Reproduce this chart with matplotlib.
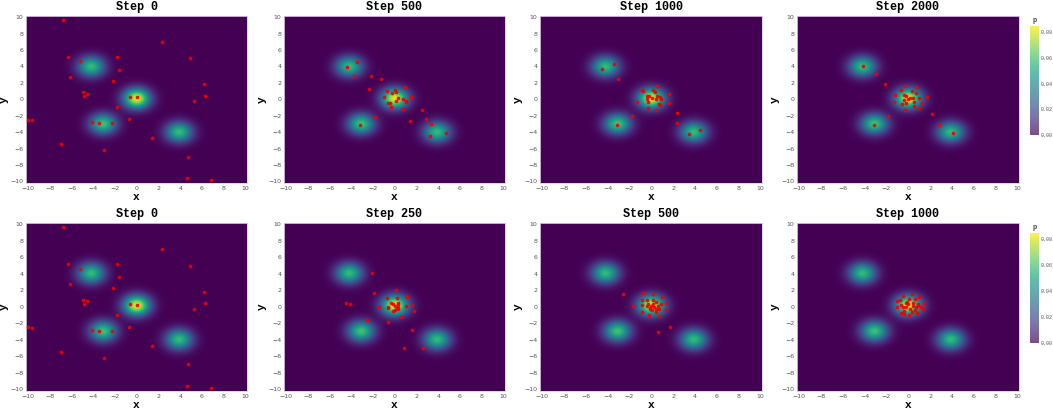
import numpy as np
import matplotlib
matplotlib.use("Agg")
import matplotlib.pyplot as plt
from matplotlib import cm
from matplotlib.colors import Normalize

# ---- mixture density parameters ----
means = [(-4.2, 4.0), (0.0, 0.1), (-3.1, -3.0), (3.9, -4.0)]
weights = [0.26, 0.37, 0.27, 0.26]
sigma = 0.85

# ---- particle positions per step ----
step0_x = [-6.82, 2.32, -6.3, -1.8, 4.86, -5.2, -1.62, -6.15, -2.23, 6.18, -4.98, -4.62, -4.89, 6.27, -0.64,
           0.0, 5.29, -1.8, -0.76, -10.03, -9.66, -4.13, -3.46, -2.29, 1.44, -6.94, -3.0, 4.68, 4.62, 6.82]
step0_y = [9.64, 6.99, 5.18, 5.18, 4.98, 4.62, 3.61, 2.77, 2.29, 1.81, 0.84, 0.68, 0.36, 0.44, 0.32,
           0.24, -0.24, -0.96, -2.41, -2.49, -2.53, -2.77, -2.93, -2.89, -4.70, -5.46, -6.22, -6.99, -9.64, -9.88]

r1_500_x = [-3.45, -4.42, -3.79, -2.21, -1.27, -2.36, 0.94, -0.67, 0.03, 0.15, -0.27, -0.97, 1.52, 0.33, 0.76,
            1.0, 0.12, 1.03, -0.61, -0.45, -0.33, 0.73, 2.48, -1.79, 1.39, 2.85, 3.33, -3.21, 4.7, 3.27]
r1_500_y = [4.6, 3.92, 2.79, 2.83, 2.46, 1.25, 1.45, 1.05, 1.09, 0.89, 0.77, 0.28, 0.28, 0.12, 0.08,
            -0.2, -0.24, -0.32, -0.4, -0.48, -0.93, -1.21, -1.33, -2.1, -2.59, -2.46, -2.99, -3.15, -4.16, -4.48]

r1_1000_x = [-3.39, -4.52, -3.05, 0.49, -0.85, -0.73, 0.18, 0.34, 1.65, -0.4, -0.18, 0.55, 0.82, 0.4, 0.85,
             -0.37, -0.31, -1.31, 1.62, 0.7, 0.82, -0.31, 0.4, 2.38, -1.74, 2.32, -3.15, 4.49, 3.42, 0.1]
r1_1000_y = [4.31, 3.74, 2.48, 1.67, 1.1, 0.98, 1.1, 0.85, 0.65, 0.37, 0.41, 0.37, 0.28, 0.08, 0.0,
             0.0, -0.28, -0.37, -0.49, -0.61, -0.65, -1.02, -1.26, -1.67, -2.07, -2.85, -3.13, -3.78, -4.19, 0.2]

r1_2000_x = [-4.19, -2.98, -2.1, -0.3, 0.7, -0.64, 0.33, 0.67, -1.22, -0.4, -0.18, 1.7, 0.94, 0.4, -0.36,
             -1.28, -0.18, -0.55, 0.49, 1.25, 0.49, 1.0, -0.27, 2.13, -1.85, 2.86, -3.16, 4.07, 0.2, 0.0]
r1_2000_y = [4.07, 3.13, 1.91, 1.59, 1.5, 1.18, 1.02, 0.73, 0.57, 0.53, 0.37, 0.33, 0.2, 0.12, -0.08,
             -0.37, -0.45, -0.53, -0.37, -0.41, -0.85, -1.06, -1.3, -1.83, -1.99, -3.13, -3.13, -4.15, 0.1, 0.05]

r2_250_x = [-2.08, -1.93, 0.15, -4.49, -4.13, -0.69, 0.18, 1.14, -0.36, 0.3, 0.33, 1.63, 1.02, -1.45, -0.6,
            -0.6, 0.33, 0.33, -0.18, 0.06, 1.81, 0.54, -2.53, -0.6, 1.6, 2.62, 0.81, 0.0, -0.2, 0.2]
r2_250_y = [4.08, 1.7, 2.02, 0.44, 0.28, 1.05, 1.05, 1.17, 0.48, 0.48, 0.28, 0.24, 0.12, -0.04, 0.0,
            -0.16, -0.08, -0.32, -0.48, -0.44, -0.53, -1.29, -1.66, -1.86, -2.87, -4.97, -5.05, 0.1, 0.3, -0.1]

r2_500_x = [-0.76, 0.18, -2.57, 1.0, -0.36, -0.82, 0.42, 0.18, 1.36, -0.3, 0.91, -1.66, -0.82, -0.36, 0.66,
            0.27, -0.09, 0.03, 0.69, 0.42, 1.39, -0.85, 0.42, -0.21, 0.69, 1.75, 0.6, 0.0, 0.2, -0.1]
r2_500_y = [1.7, 1.49, 1.54, 1.17, 0.81, 0.77, 0.61, 0.81, 0.48, 0.32, 0.32, 0.08, 0.16, 0.08, 0.08,
            0.0, -0.24, -0.36, -0.28, -0.32, -0.36, -0.65, -0.69, -1.01, -1.13, -2.46, -3.03, 0.1, 0.3, -0.1]

r2_1000_x = [0.3, -0.46, 1.0, -1.0, 0.61, 0.06, 1.4, -0.24, -0.67, 0.88, 0.4, -1.0, 0.0, 0.67, 1.37,
             0.15, -0.36, 0.61, -0.67, 0.79, 0.09, -0.18, 0.46, -0.49, 0.3, 0.91, -0.79, -0.09, -0.43, 1.16]
r2_1000_y = [1.5, 1.35, 1.17, 0.65, 0.89, 0.93, 0.48, 0.48, 0.24, 0.32, 0.12, -0.08, 0.28, -0.08, -0.28,
             -0.32, -0.48, -0.4, -0.73, -0.81, -1.05, 0.0, 0.4, -0.08, -0.65, 0.2, 0.81, 0.61, -0.85, 0.0]

row1_titles = ["Step 0", "Step 500", "Step 1000", "Step 2000"]
row2_titles = ["Step 0", "Step 250", "Step 500", "Step 1000"]
row1_pts = [(step0_x, step0_y), (r1_500_x, r1_500_y), (r1_1000_x, r1_1000_y), (r1_2000_x, r1_2000_y)]
row2_pts = [(step0_x, step0_y), (r2_250_x, r2_250_y), (r2_500_x, r2_500_y), (r2_1000_x, r2_1000_y)]

tick_vals = [-10, -8, -6, -4, -2, 0, 2, 4, 6, 8, 10]
cbar_ticks = [0.00, 0.02, 0.04, 0.06, 0.08]
vmin, vmax = 0.0, 0.085

XLIM = (-10.2, 10.15)
YLIM = (-10.2, 10.15)

# density grid
gx = np.linspace(XLIM[0], XLIM[1], 500)
gy = np.linspace(YLIM[0], YLIM[1], 500)
GX, GY = np.meshgrid(gx, gy)
dens = np.zeros_like(GX)
for (mx, my), w in zip(means, weights):
    dens += w / (2 * np.pi * sigma**2) * np.exp(-((GX - mx)**2 + (GY - my)**2) / (2 * sigma**2))

W, H = 1053, 411
fig = plt.figure(figsize=(W / 100, H / 100), dpi=100)

col_x = [(26, 247), (284, 505), (540, 762), (797, 1019)]
row_y = [(16, 183), (223, 391)]
cbar_rows = [(26, 135), (233, 343)]

mono = ["Liberation Mono", "DejaVu Sans Mono"]
norm = Normalize(vmin=vmin, vmax=vmax)

for r, (titles, pts) in enumerate([(row1_titles, row1_pts), (row2_titles, row2_pts)]):
    top, bot = row_y[r]
    for c in range(4):
        left, right = col_x[c]
        ax = fig.add_axes([left / W, 1 - bot / H, (right - left) / W, (bot - top) / H])
        ax.imshow(dens, extent=[XLIM[0], XLIM[1], YLIM[0], YLIM[1]], origin="lower",
                  cmap="viridis", vmin=vmin, vmax=vmax, aspect="auto", interpolation="bilinear")
        px, py = pts[c]
        ax.scatter(px, py, s=7, color="#ee0000", alpha=0.9, linewidths=0, zorder=3)
        ax.set_xlim(*XLIM)
        ax.set_ylim(*YLIM)
        ax.set_xticks(tick_vals)
        ax.set_yticks(tick_vals)
        ax.tick_params(length=0, labelsize=4.5, labelcolor="#555555", pad=2)
        for s in ax.spines.values():
            s.set_color("#d9cfe0")
            s.set_linewidth(0.6)
        ax.set_title(titles[c], fontsize=8.5, fontweight="bold", family=mono, pad=4)
        ax.set_xlabel("x", fontsize=8, fontweight="bold", family=mono, labelpad=1)
        ax.set_ylabel("y", fontsize=8, fontweight="bold", family=mono, labelpad=1)
    # colorbar
    ctop, cbot = cbar_rows[r]
    cax = fig.add_axes([1030 / W, 1 - cbot / H, 9 / W, (cbot - ctop) / H])
    sm = cm.ScalarMappable(norm=norm, cmap="viridis")
    cb = fig.colorbar(sm, cax=cax)
    cb.solids.set_alpha(0.7)
    cb.outline.set_visible(False)
    cb.set_ticks(cbar_ticks)
    cb.set_ticklabels([f"{t:.2f}" for t in cbar_ticks])
    cax.tick_params(length=0, labelsize=3.6, labelcolor="#555555", pad=1)
    for lab in cax.get_yticklabels():
        lab.set_family(mono)
    cax.set_title("p", fontsize=5, fontweight="bold", family=mono, color="#444444", pad=3)

fig.savefig("out.png", dpi=100)
